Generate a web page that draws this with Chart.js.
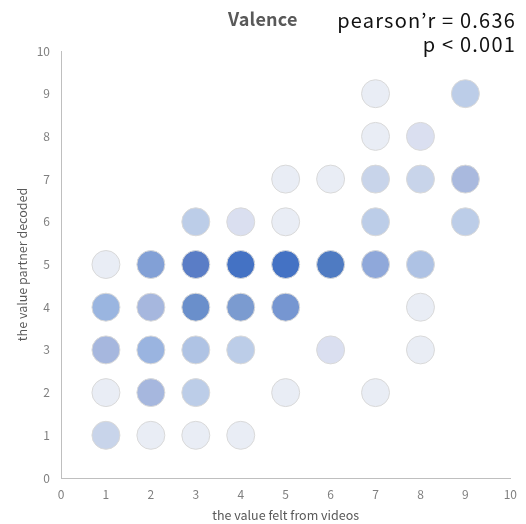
<!DOCTYPE html>
<html><head><meta charset="utf-8">
<script src="https://cdn.jsdelivr.net/npm/chart.js@4"></script>
<style>
html,body{margin:0;padding:0;background:#fff;}
#wrap{position:relative;width:526px;height:524px;}
canvas{position:absolute;left:0;top:0;}
.t{position:absolute;font-family:"Noto Sans CJK JP","Noto Sans",sans-serif;white-space:nowrap;line-height:1;}
#ttl{left:228px;top:9px;font-size:18px;font-weight:bold;color:#595959;letter-spacing:0.2px;}
#stat{right:10px;top:8px;font-size:20px;color:#111;text-align:right;line-height:24px;letter-spacing:1.2px;}
</style></head>
<body><div id="wrap"><canvas id="c" width="526" height="524"></canvas>
<div class="t" id="ttl">Valence</div>
<div class="t" id="stat">pearson’r = 0.636<br>p &lt; 0.001</div></div>
<script>
const xTicks = [0,1,2,3,4,5,6,7,8,9,10];
const yTicks = [0,1,2,3,4,5,6,7,8,9,10];
const felt    = [7,9, 7,8, 5,6,7,8,9, 3,4,5,7,9, 1,2,3,4,5,6,7,8, 1,2,3,4,5,8, 1,2,3,4,6,8, 1,2,3,5,7, 1,2,3,4];
const decoded = [9,9, 8,8, 7,7,7,7,7, 6,6,6,6,6, 5,5,5,5,5,5,5,5, 4,4,4,4,4,4, 3,3,3,3,3,3, 2,2,2,2,2, 1,1,1,1];
const shades = [
 '#E9EDF5','#BCCDE8',
 '#E9EDF5','#DADFF0',
 '#E9EDF5','#E9EDF5','#C8D4EA','#C8D4EA','#A9B9DE',
 '#BCCDE8','#DADFF0','#E9EDF5','#BCCDE8','#BCCDE8',
 '#E9EDF5','#82A0D6','#5A7DC6','#4472C4','#4472C4','#4F7BC2','#8FA8DA','#AEC2E4',
 '#9AB5E0','#A6B7DE','#6A8FCB','#7B9BD0','#7696D1','#E9EDF5',
 '#A6B7DE','#9AB4E0','#AFC3E4','#BCCDE8','#DADFF0','#E9EDF5',
 '#E9EDF5','#A6B7DE','#BCCDE8','#E9EDF5','#E9EDF5',
 '#C8D4EA','#E9EDF5','#E9EDF5','#E9EDF5'];
const points = felt.map((x,i)=>({x:x,y:decoded[i]}));
const FONT = '"Noto Sans CJK JP","Noto Sans",sans-serif';
new Chart(document.getElementById('c'),{
  type:'scatter',
  data:{datasets:[{data:points,backgroundColor:shades,borderColor:'#D9D9D9',borderWidth:1,pointRadius:14,pointHoverRadius:14}]},
  options:{
    responsive:false,animation:false,events:[],clip:false,
    layout:{padding:{left:0,right:14,top:51,bottom:0}},
    plugins:{legend:{display:false},tooltip:{enabled:false}},
    scales:{
      x:{type:'linear',min:0,max:10,
        afterBuildTicks:s=>{s.ticks=xTicks.map(v=>({value:v}));},
        afterFit:s=>{s.height=46;},
        grid:{display:false,drawTicks:false},
        border:{display:true,color:'#BFBFBF',width:1},
        ticks:{padding:9,color:'#7f7f7f',font:{family:FONT,size:12}},
        title:{display:true,text:'the value felt from videos',color:'#595959',font:{family:FONT,size:12.5},padding:{top:0,bottom:1}}},
      y:{type:'linear',min:0,max:10,
        afterBuildTicks:s=>{s.ticks=yTicks.map(v=>({value:v}));},
        afterFit:s=>{s.width=61;},
        grid:{display:false,drawTicks:false},
        border:{display:true,color:'#BFBFBF',width:1},
        ticks:{padding:11,color:'#7f7f7f',font:{family:FONT,size:12}},
        title:{display:true,text:'the value partner decoded',color:'#595959',font:{family:FONT,size:12.5},padding:{top:15,bottom:0}}}
    }
  }
});
</script></body></html>
